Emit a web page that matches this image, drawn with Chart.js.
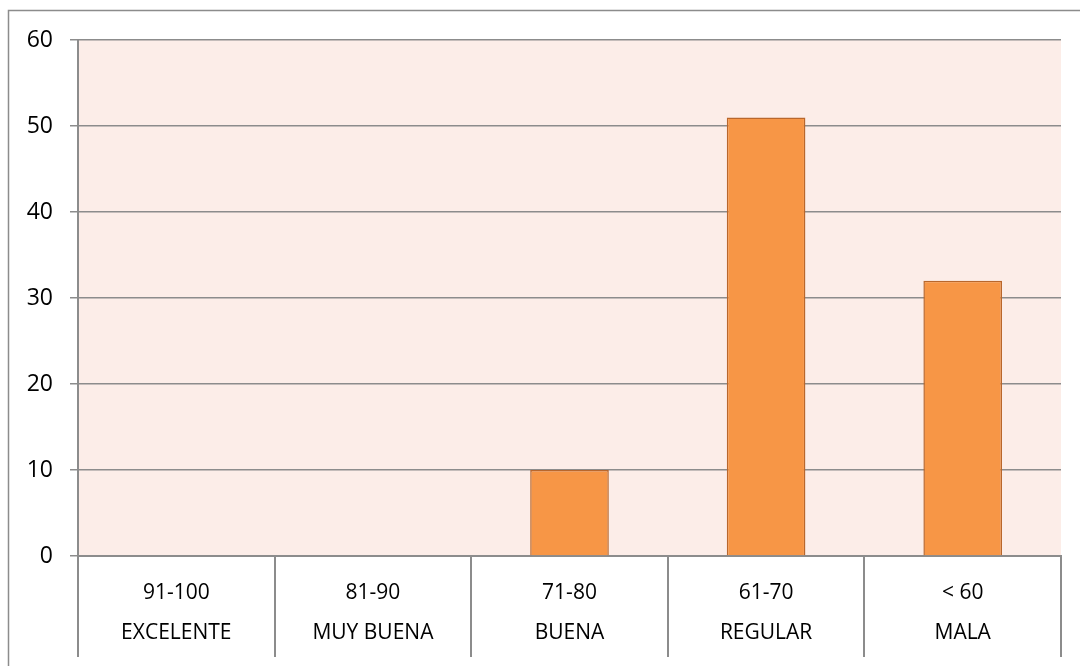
<!DOCTYPE html>
<html>
<head>
<meta charset="utf-8">
<script src="https://cdn.jsdelivr.net/npm/chart.js@4"></script>
<style>
  html, body { margin: 0; padding: 0; background: #fff; }
  #wrap { width: 1080px; height: 666px; }
</style>
</head>
<body>
<div id="wrap"><canvas id="notasChart" width="1080" height="666"></canvas></div>
<script>
const ranges = ['91-100', '81-90', '71-80', '61-70', '< 60'];
const grades = ['EXCELENTE', 'MUY BUENA', 'BUENA', 'REGULAR', 'MALA'];
const students = [0, 0, 10, 51, 32];
const yTicks = [0, 10, 20, 30, 40, 50, 60];

// frame, plot background and the table lines under the axis
const excelLook = {
    id: 'excelLook',
    beforeDraw(chart) {
        const c = chart.ctx;
        const a = chart.chartArea;
        c.save();
        c.strokeStyle = '#8c8c8c';
        c.lineWidth = 1.5;
        c.strokeRect(8.5, 10.5, 1090, 700);
        c.fillStyle = '#fcede8';
        c.fillRect(a.left, a.top, a.right - a.left, a.bottom - a.top);
        c.restore();
    },
    afterDraw(chart) {
        const c = chart.ctx;
        const a = chart.chartArea;
        const x = chart.scales.x;
        const step = (x.right - x.left) / ranges.length;
        c.save();
        c.strokeStyle = '#8c8c8c';
        c.lineWidth = 2;
        for (let i = 0; i <= ranges.length; i++) {
            const px = Math.round(x.left + i * step);
            c.beginPath();
            c.moveTo(px, a.bottom);
            c.lineTo(px, 657);
            c.stroke();
        }
        c.beginPath();
        c.moveTo(a.left, a.top - 1);
        c.lineTo(a.left, a.bottom);
        c.stroke();
        c.restore();
    }
};

new Chart(document.getElementById('notasChart'), {
    type: 'bar',
    data: {
        labels: ranges.map((r, i) => [r, grades[i]]),
        datasets: [{
            label: 'Estudiantes',
            data: students,
            backgroundColor: '#f79646',
            borderColor: '#b9672c',
            borderWidth: 1.5,
            categoryPercentage: 1,
            barPercentage: 0.4
        }]
    },
    options: {
        responsive: false,
        animation: false,
        layout: { padding: { left: 0, right: 19, top: 40, bottom: 0 } },
        plugins: {
            legend: { display: false },
            tooltip: { enabled: false }
        },
        scales: {
            x: {
                offset: true,
                afterFit(scale) { scale.height = 110; },
                grid: { display: false },
                border: { display: true, color: '#8c8c8c', width: 2 },
                ticks: {
                    color: '#000',
                    font: { family: '"Open Sans", sans-serif', size: 21, lineHeight: '40px' },
                    padding: 9,
                    maxRotation: 0
                }
            },
            y: {
                min: 0,
                max: 60,
                afterBuildTicks(scale) {
                    scale.ticks = yTicks.map(v => ({ value: v }));
                },
                afterFit(scale) { scale.width = 78; },
                grid: { color: '#8c8c8c', lineWidth: 1.5, tickLength: 8 },
                border: { display: false },
                ticks: {
                    color: '#000',
                    font: { family: '"Open Sans", sans-serif', size: 23 },
                    padding: 17
                }
            }
        }
    },
    plugins: [excelLook]
});
</script>
</body>
</html>
